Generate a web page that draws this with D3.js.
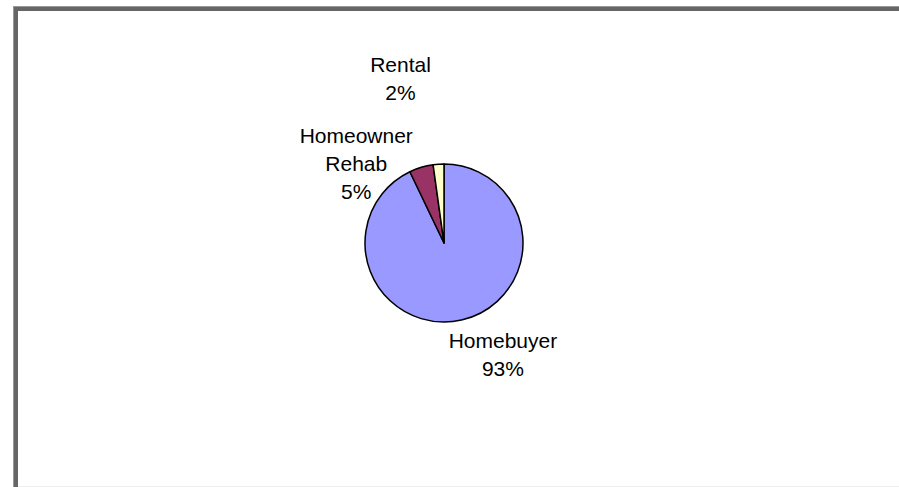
<!DOCTYPE html>
<html>
<head>
<meta charset="utf-8">
<script src="https://cdn.jsdelivr.net/npm/d3@7.9.0/dist/d3.min.js"></script>
<style>
  html, body { margin: 0; padding: 0; background: #fff; }
  svg { display: block; }
  text { font-family: "Liberation Sans", Arial, sans-serif; font-size: 21px; fill: #000; }
</style>
</head>
<body>
<svg id="chart" width="899" height="487"></svg>
<script>
// slice data, in drawing order (clockwise from 12 o'clock)
const categories = ["Homebuyer", "Homeowner Rehab", "Rental"];
const shares = [92.9, 4.9, 2.2];
const sliceColors = ["#9999ff", "#993366", "#ffffcc"];
// lines of each label (category split the way the chart wraps it)
const labelLines = [["Homebuyer"], ["Homeowner", "Rehab"], ["Rental"]];

const width = 899, height = 487;
const cx = 444, cy = 243, radius = 79;
// where each label's first baseline sits: [angle in degrees from top, distance from centre]
const labelPolar = [[150.6, 120], [318.7, 133], [345.7, 176]];
const lineHeight = 28;

const svg = d3.select("#chart");

// frame like the original sheet object
svg.append("rect").attr("x", 13).attr("y", 6).attr("width", width - 13).attr("height", 1).attr("fill", "#999");
svg.append("rect").attr("x", 13).attr("y", 6).attr("width", 1).attr("height", height - 6).attr("fill", "#999");
svg.append("rect").attr("x", 14).attr("y", 7).attr("width", width - 14).attr("height", 4).attr("fill", "#666");
svg.append("rect").attr("x", 14).attr("y", 7).attr("width", 4).attr("height", height - 7).attr("fill", "#666");
svg.append("rect").attr("x", 18).attr("y", 486).attr("width", width - 18).attr("height", 1).attr("fill", "#eee");

const data = categories.map((c, i) => ({ name: c, value: shares[i], color: sliceColors[i], lines: labelLines[i] }));
const total = d3.sum(shares);

const pie = d3.pie().value(d => d.value).sort(null);
const arc = d3.arc().innerRadius(0).outerRadius(radius);
const arcs = pie(data);

const g = svg.append("g").attr("transform", `translate(${cx},${cy})`);

g.selectAll("path")
  .data(arcs)
  .join("path")
  .attr("d", arc)
  .attr("fill", d => d.data.color)
  .attr("stroke", "#000")
  .attr("stroke-width", 1.5)
  .attr("stroke-linejoin", "round");

arcs.forEach((d, i) => {
  const [a, r] = labelPolar[i];
  const [x, y] = d3.pointRadial(a * Math.PI / 180, r);
  const pct = Math.round(d.data.value / total * 100) + "%";
  const lines = d.data.lines.concat([pct]);
  const t = g.append("text").attr("text-anchor", "middle");
  lines.forEach((ln, k) => {
    t.append("tspan").attr("x", x).attr("y", y + k * lineHeight).text(ln);
  });
});
</script>
</body>
</html>
